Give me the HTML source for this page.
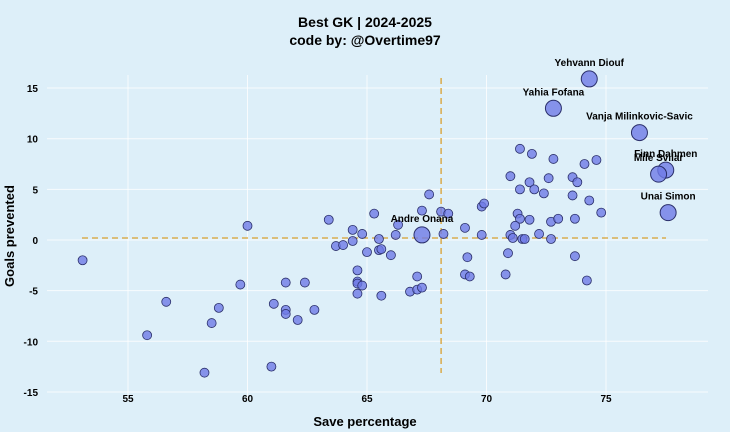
<!DOCTYPE html>
<html><head><meta charset="utf-8"><style>
body{margin:0;background:#ddeff9;}
svg{display:block;font-family:"Liberation Sans",sans-serif;}
</style></head><body>
<svg id="chart" width="730" height="432" viewBox="0 0 730 432">
<rect width="730" height="432" fill="#ddeff9"/>
<text x="365" y="27" text-anchor="middle" font-size="14" font-weight="bold">Best GK | 2024-2025</text>
<text x="365" y="45" text-anchor="middle" font-size="14" font-weight="bold">code by: @Overtime97</text>
<g id="grid"></g>
<g id="ticks"></g>
<g id="refs"></g>
<g id="pts"></g>
<g id="labels"></g>
<text x="365" y="426" text-anchor="middle" font-size="13" font-weight="bold">Save percentage</text>
<text transform="translate(14,236) rotate(-90)" text-anchor="middle" font-size="13" font-weight="bold">Goals prevented</text>
</svg>
<script>
const xTicks=[55,60,65,70,75];
const yTicks=[-15,-10,-5,0,5,10,15];
const saveX=[53.1,60.0,56.6,55.8,58.8,58.5,58.2,59.7,61.0,61.1,61.6,61.6,61.6,62.1,62.4,62.8,63.4,63.7,64.0,64.4,64.4,64.6,64.6,64.6,64.8,64.6,64.8,65.0,65.3,65.5,65.5,65.6,65.6,66.0,66.2,66.3,66.8,67.1,67.1,67.3,67.3,67.6,68.1,68.2,68.4,
71.4,71.9,72.8,74.6,74.1,71.0,71.8,72.6,73.6,73.8,71.4,72.0,72.4,73.6,74.3,69.8,69.9,71.3,71.4,71.8,71.2,72.7,73.0,73.7,74.8,69.1,69.8,71.0,71.1,71.5,71.6,72.2,72.7,69.2,70.9,73.7,69.1,69.3,70.8,74.2];
const goalsY=[-2.0,1.4,-6.1,-9.4,-6.7,-8.2,-13.1,-4.4,-12.5,-6.3,-4.2,-6.9,-7.3,-7.9,-4.2,-6.9,2.0,-0.6,-0.5,1.0,-0.1,-3.0,-4.1,-4.3,-4.5,-5.3,0.6,-1.2,2.6,0.1,-1.0,-0.9,-5.5,-1.5,0.5,1.5,-5.1,-3.6,-4.9,-4.7,2.9,4.5,2.8,0.6,2.6,
9.0,8.5,8.0,7.9,7.5,6.3,5.7,6.1,6.2,5.7,5.0,5.0,4.6,4.4,3.9,3.3,3.6,2.6,2.1,2.0,1.4,1.8,2.1,2.1,2.7,1.2,0.5,0.5,0.2,0.1,0.1,0.6,0.1,-1.7,-1.3,-1.6,-3.4,-3.6,-3.4,-4.0];
const starNames=["Andre Onana","Yehvann Diouf","Yahia Fofana","Vanja Milinkovic-Savic","Finn Dahmen","Mile Svilar","Unai Simon"];
const starX=[67.3,74.3,72.8,76.4,77.5,77.2,77.6];
const starY=[0.5,15.9,13.0,10.6,6.9,6.5,2.7];
const meanX=[68.1];
const meanY=[0.2];
const NS="http://www.w3.org/2000/svg";
const sx=v=>128+(v-55)*23.9;
const sy=v=>240-v*10.13;
function mk(t,a,p){const e=document.createElementNS(NS,t);for(const k in a)e.setAttribute(k,a[k]);p.appendChild(e);return e;}
const grid=document.getElementById('grid'),ticks=document.getElementById('ticks');
xTicks.forEach(v=>{
 const l=mk('line',{x1:sx(v),x2:sx(v),y1:75,y2:400,stroke:'#fff','stroke-width':1,opacity:0.8},grid);
 
 
 const t=mk('text',{x:sx(v),y:402,'text-anchor':'middle','font-size':10,'font-weight':'bold'},ticks);
 t.textContent=v;
 
 
});
yTicks.forEach(v=>{
 const l=mk('line',{x1:47,x2:708,y1:sy(v),y2:sy(v),stroke:'#fff','stroke-width':1,opacity:0.8},grid);
 
 
 const t=mk('text',{x:38,y:sy(v)+4,'text-anchor':'end','font-size':10,'font-weight':'bold'},ticks);
 t.textContent=v;
 
 
});
const refs=document.getElementById('refs');
const hl=mk('line',{x1:82,x2:666,y1:sy(meanY[0]),y2:sy(meanY[0]),stroke:'#d9a030','stroke-width':1.3,'stroke-dasharray':'6,4'},refs);


const vl=mk('line',{x1:sx(meanX[0]),x2:sx(meanX[0]),y1:78,y2:373,stroke:'#d9a030','stroke-width':1.3,'stroke-dasharray':'6,4'},refs);


const pts=document.getElementById('pts'),labels=document.getElementById('labels');
saveX.forEach((v,i)=>{
 const c=mk('circle',{cx:sx(v),cy:sy(goalsY[i]),r:4.5,fill:'#6f7be6','fill-opacity':0.8,stroke:'#2a2f6a','stroke-width':0.8},pts);
 
 
});
starX.forEach((v,i)=>{
 const c=mk('circle',{cx:sx(v),cy:sy(starY[i]),r:8,fill:'#6f7be6','fill-opacity':0.8,stroke:'#2a2f6a','stroke-width':1},pts);
 
 
 const t=mk('text',{x:sx(v),y:sy(starY[i])-13,'text-anchor':'middle','font-size':10,'font-weight':'bold'},labels);
 t.textContent=starNames[i];
 
 
});
</script>
</body></html>
